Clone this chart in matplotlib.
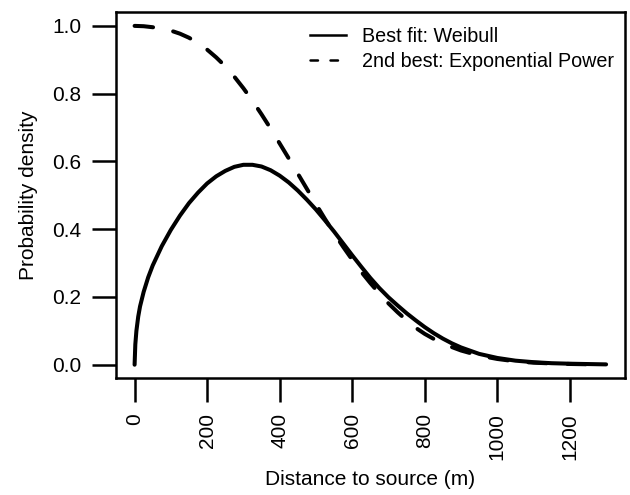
import matplotlib
matplotlib.use("Agg")
import matplotlib.pyplot as plt
from matplotlib.lines import Line2D

plt.rcParams['font.family'] = ['Liberation Sans', 'DejaVu Sans']

# values
weibull_x = [0, 2, 5, 10, 15, 25, 37.5, 50, 75, 100, 125, 150, 175, 200, 225,
             250, 275, 300, 325, 350, 375, 400, 425, 450, 475, 500, 525, 550,
             575, 600, 625, 650, 675, 700, 725, 750, 775, 800, 825, 850, 875,
             900, 950, 1000, 1050, 1100, 1150, 1200, 1250, 1300]
weibull = [0.0, 0.06, 0.10, 0.142, 0.172, 0.215, 0.258, 0.293, 0.350, 0.398,
           0.440, 0.477, 0.508, 0.535, 0.556, 0.572, 0.584, 0.590, 0.590,
           0.585, 0.574, 0.558, 0.538, 0.514, 0.487, 0.458, 0.426, 0.393,
           0.358, 0.323, 0.289, 0.256, 0.226, 0.199, 0.175, 0.152, 0.131,
           0.111, 0.093, 0.077, 0.063, 0.051, 0.032, 0.020, 0.012, 0.0075,
           0.0045, 0.003, 0.002, 0.001]

exp_x = [0, 25, 50, 75, 100, 125, 150, 175, 200, 225, 250, 275, 300, 325,
         350, 375, 400, 425, 450, 475, 500, 525, 550, 575, 600, 625, 650,
         675, 700, 725, 750, 775, 800, 825, 850, 875, 900, 950, 1000, 1050,
         1100, 1150, 1200, 1250, 1300]
exp_power = [1.0, 0.999, 0.996, 0.992, 0.986, 0.977, 0.965, 0.949, 0.930,
             0.907, 0.881, 0.850, 0.816, 0.779, 0.739, 0.697, 0.653, 0.609,
             0.564, 0.519, 0.474, 0.430, 0.388, 0.348, 0.310, 0.274, 0.241,
             0.210, 0.181, 0.155, 0.131, 0.109, 0.091, 0.076, 0.063, 0.052,
             0.042, 0.027, 0.017, 0.010, 0.006, 0.0038, 0.0022, 0.0013,
             0.0007]

x_ticks = [0, 200, 400, 600, 800, 1000, 1200]
y_ticks = [0.0, 0.2, 0.4, 0.6, 0.8, 1.0]
labels = ['Best fit: Weibull', '2nd best: Exponential Power']

fig = plt.figure(figsize=(6.3, 4.95), dpi=100)
ax = fig.add_axes([0.1837, 0.2358, 0.8083, 0.7393])

ax.plot(weibull_x, weibull, color='black', lw=2.9, solid_capstyle='round',
        solid_joinstyle='round')
ax.plot(exp_x, exp_power, color='black', lw=2.9, dashes=(4.6, 5.1),
        dash_capstyle='round', dash_joinstyle='round')

ax.set_xlim(-52, 1352)
ax.set_ylim(-0.04, 1.04)
ax.set_xticks(x_ticks)
ax.set_xticklabels([str(t) for t in x_ticks])
ax.set_yticks(y_ticks)
ax.set_yticklabels(['%.1f' % t for t in y_ticks])

for s in ax.spines.values():
    s.set_linewidth(1.8)
ax.tick_params(axis='both', length=17, width=1.8, labelsize=15, pad=8)
ax.tick_params(axis='x', labelrotation=90)

ax.set_xlabel('Distance to source (m)', fontsize=15, labelpad=7)
ax.set_ylabel('Probability density', fontsize=15, labelpad=10)

handles = [Line2D([], [], color='black', lw=1.8),
           Line2D([], [], color='black', lw=1.8, dashes=(3.0, 5.0),
                  dash_capstyle='round')]
ax.legend(handles, labels, loc='upper left', bbox_to_anchor=(0.492, 0.945),
          bbox_transform=fig.transFigure, frameon=False, fontsize=14.2,
          borderpad=0, borderaxespad=0, handlelength=1.85,
          handletextpad=0.81, labelspacing=0.3)

fig.savefig('out.png', dpi=100)
